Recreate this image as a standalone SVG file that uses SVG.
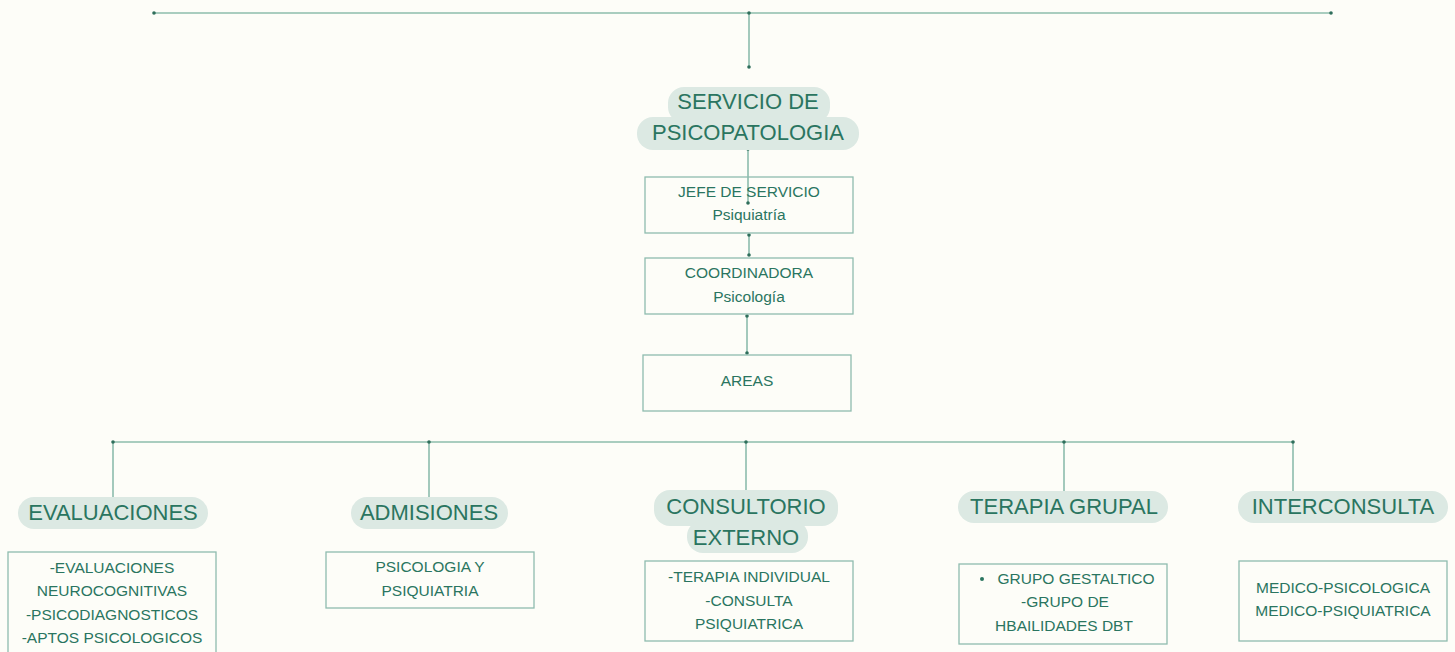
<svg xmlns="http://www.w3.org/2000/svg" width="1455" height="652" viewBox="0 0 1455 652">
<style>
.bg{fill:#fdfdf8}
.ln{stroke:#8cbcad;stroke-width:1.6;fill:none}
.dot{fill:#2f6e5b}
.pill{fill:#dce9e3}
.box{fill:none;stroke:#8fbcae;stroke-width:1.3}
.t{font-family:"Liberation Sans",Arial,sans-serif;fill:#2a7560;text-anchor:middle}
.h{font-size:22px}
.s{font-size:15.5px}
</style>
<rect class="bg" width="1455" height="652"/>
<g id="connectors">
<line class="ln" x1="154" y1="13" x2="1331" y2="13"/>
<line class="ln" x1="749" y1="13" x2="749" y2="67"/>
<line class="ln" x1="748" y1="149" x2="748" y2="203"/>
<line class="ln" x1="749" y1="235" x2="749" y2="255"/>
<line class="ln" x1="747" y1="316" x2="747" y2="353"/>
<line class="ln" x1="113" y1="442" x2="1293" y2="442"/>
<line class="ln" x1="113" y1="442" x2="113" y2="497"/>
<line class="ln" x1="429" y1="442" x2="429" y2="497"/>
<line class="ln" x1="746" y1="442" x2="746" y2="491"/>
<line class="ln" x1="1064" y1="442" x2="1064" y2="491"/>
<line class="ln" x1="1293" y1="442" x2="1293" y2="491"/>
<g class="dot">
<circle cx="154" cy="13" r="1.8"/><circle cx="749" cy="13" r="1.8"/><circle cx="1331" cy="13" r="1.8"/><circle cx="749" cy="67" r="1.8"/>
<circle cx="748" cy="149" r="1.8"/><circle cx="748" cy="203" r="1.8"/>
<circle cx="749" cy="235" r="1.8"/><circle cx="749" cy="255" r="1.8"/>
<circle cx="747" cy="316" r="1.8"/><circle cx="747" cy="353" r="1.8"/>
<circle cx="113" cy="442" r="1.8"/><circle cx="429" cy="442" r="1.8"/><circle cx="746" cy="442" r="1.8"/><circle cx="1064" cy="442" r="1.8"/><circle cx="1293" cy="442" r="1.8"/>
</g>
</g>
<g id="servicio">
<rect class="pill" x="668" y="87" width="162" height="36" rx="16"/>
<rect class="pill" x="637" y="117" width="222" height="33" rx="16"/>
<text class="t h" x="748" y="109">SERVICIO DE</text>
<text class="t h" x="748" y="140">PSICOPATOLOGIA</text>
</g>
<g id="jefe">
<rect class="box" x="645" y="177" width="208" height="56"/>
<text class="t s" x="749" y="197">JEFE DE SERVICIO</text>
<text class="t s" x="749" y="220">Psiquiatría</text>
</g>
<g id="coordinadora">
<rect class="box" x="645" y="258" width="208" height="56"/>
<text class="t s" x="749" y="278">COORDINADORA</text>
<text class="t s" x="749" y="302">Psicología</text>
</g>
<g id="areas">
<rect class="box" x="643" y="355" width="208" height="56"/>
<text class="t s" x="747" y="386">AREAS</text>
</g>
<g id="evaluaciones">
<rect class="pill" x="18" y="497" width="190" height="32" rx="16"/>
<text class="t h" x="113" y="520">EVALUACIONES</text>
<rect class="box" x="8" y="552" width="208" height="110"/>
<text class="t s" x="112" y="573">-EVALUACIONES</text>
<text class="t s" x="112" y="596">NEUROCOGNITIVAS</text>
<text class="t s" x="112" y="620">-PSICODIAGNOSTICOS</text>
<text class="t s" x="112" y="643">-APTOS PSICOLOGICOS</text>
</g>
<g id="admisiones">
<rect class="pill" x="351" y="497" width="157" height="32" rx="16"/>
<text class="t h" x="429" y="520">ADMISIONES</text>
<rect class="box" x="326" y="552" width="208" height="56"/>
<text class="t s" x="430" y="572">PSICOLOGIA Y</text>
<text class="t s" x="430" y="596">PSIQUIATRIA</text>
</g>
<g id="consultorio">
<rect class="pill" x="654" y="490" width="184" height="36" rx="16"/>
<rect class="pill" x="687" y="520" width="121" height="33" rx="16"/>
<text class="t h" x="746" y="514">CONSULTORIO</text>
<text class="t h" x="746" y="545">EXTERNO</text>
<rect class="box" x="645" y="561" width="208" height="80"/>
<text class="t s" x="749" y="582">-TERAPIA INDIVIDUAL</text>
<text class="t s" x="749" y="606">-CONSULTA</text>
<text class="t s" x="749" y="629">PSIQUIATRICA</text>
</g>
<g id="terapia">
<rect class="pill" x="958" y="491" width="210" height="32" rx="16"/>
<text class="t h" x="1064" y="514">TERAPIA GRUPAL</text>
<rect class="box" x="959" y="564" width="208" height="80"/>
<circle cx="982" cy="579" r="2" fill="#2a7560"/>
<text class="t s" x="1076" y="584">GRUPO GESTALTICO</text>
<text class="t s" x="1065" y="607">-GRUPO DE</text>
<text class="t s" x="1064" y="631">HBAILIDADES DBT</text>
</g>
<g id="interconsulta">
<rect class="pill" x="1238" y="491" width="210" height="32" rx="16"/>
<text class="t h" x="1343" y="514">INTERCONSULTA</text>
<rect class="box" x="1239" y="561" width="208" height="80"/>
<text class="t s" x="1343" y="593">MEDICO-PSICOLOGICA</text>
<text class="t s" x="1343" y="616">MEDICO-PSIQUIATRICA</text>
</g>
</svg>
